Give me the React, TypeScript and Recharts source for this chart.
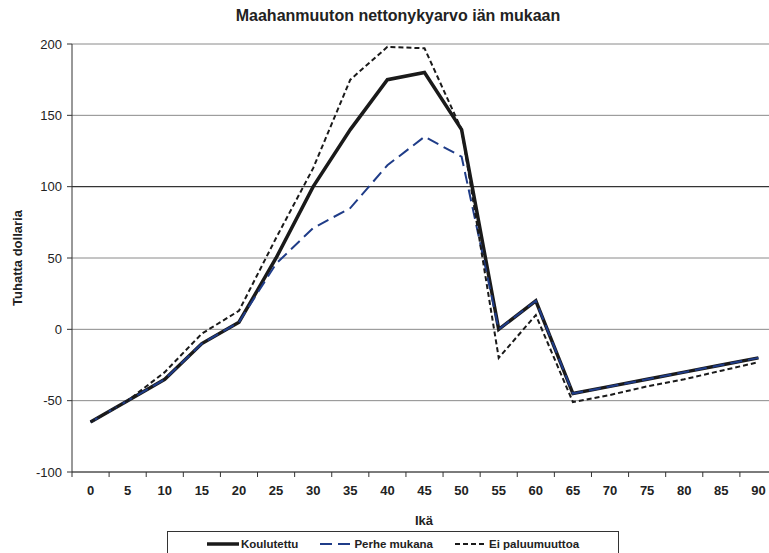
import { LineChart, Line, XAxis, YAxis, CartesianGrid, ReferenceLine } from 'recharts'

const ages = [0, 5, 10, 15, 20, 25, 30, 35, 40, 45, 50, 55, 60, 65, 70, 75, 80, 85, 90]
const koulutettu = [-65, -50, -35, -10, 5, 50, 100, 140, 175, 180, 140, 0, 20, -45, -40, -35, -30, -25, -20]
const perheMukana = [-65, -50, -35, -10, 5, 46, 71, 85, 115, 135, 121, 0, 20, -45, -40, -35, -30, -25, -20]
const eiPaluumuuttoa = [-65, -50, -30, -3, 13, 64, 113, 175, 198, 197, 140, -20, 10, -51, -46, -40, -35, -29, -23]
const yTicks = [-100, -50, 0, 50, 100, 150, 200]

const CHART_W = 790
const CHART_H = 500
const PLOT_LEFT = 72
const PLOT_RIGHT = 777
const PLOT_BOTTOM = 472
const BAND = (PLOT_RIGHT - PLOT_LEFT) / ages.length

const data = ages.map((age, i) => ({
  age: String(age),
  koulutettu: koulutettu[i],
  perhe: perheMukana[i],
  eiPaluu: eiPaluumuuttoa[i],
}))

function AgeTick({ x, payload, index }: any) {
  const left = x - BAND / 2
  const last = index === ages.length - 1
  return (
    <g>
      <line x1={left} x2={left} y1={PLOT_BOTTOM} y2={PLOT_BOTTOM + 5} stroke="#333" />
      {last && <line x1={x + BAND / 2} x2={x + BAND / 2} y1={PLOT_BOTTOM} y2={PLOT_BOTTOM + 5} stroke="#333" />}
      <text x={x} y={PLOT_BOTTOM + 23} textAnchor="middle" fontSize={13} fontWeight="bold" fill="#222">
        {payload.value}
      </text>
    </g>
  )
}

const legendItems = [
  { label: 'Koulutettu', stroke: '#1a1a1a', width: 3.5, dash: undefined },
  { label: 'Perhe mukana', stroke: '#1f3c88', width: 2, dash: '12 6' },
  { label: 'Ei paluumuuttoa', stroke: '#1a1a1a', width: 2, dash: '5 3' },
]

export default function App() {
  return (
    <div
      style={{
        position: 'absolute',
        left: 0,
        top: 0,
        width: 769,
        height: 553,
        overflow: 'hidden',
        background: '#fff',
        fontFamily: '"Liberation Sans", Arial, sans-serif',
        color: '#222',
      }}
    >
      <div style={{ position: 'absolute', left: 0, width: 796, top: 7, textAlign: 'center', fontSize: 16, fontWeight: 'bold' }}>
        Maahanmuuton nettonykyarvo iän mukaan
      </div>
      <div
        style={{
          position: 'absolute',
          left: 17,
          top: 258,
          transform: 'translate(-50%, -50%) rotate(-90deg)',
          whiteSpace: 'nowrap',
          fontSize: 13,
          fontWeight: 'bold',
        }}
      >
        Tuhatta dollaria
      </div>
      <div style={{ position: 'absolute', left: 0, width: 848, top: 513, textAlign: 'center', fontSize: 13, fontWeight: 'bold' }}>
        Ikä
      </div>
      <div
        style={{
          position: 'absolute',
          left: 167,
          top: 531,
          width: 452,
          height: 40,
          border: '1px solid #333',
          display: 'flex',
          alignItems: 'flex-start',
          justifyContent: 'center',
          paddingTop: 6,
          boxSizing: 'border-box',
          fontSize: 11.5,
          fontWeight: 'bold',
        }}
      >
        {legendItems.map((item) => (
          <div key={item.label} style={{ display: 'flex', alignItems: 'center', margin: '0 11px' }}>
            <svg width={32} height={8} style={{ marginRight: 2 }}>
              <line x1={0} x2={32} y1={4} y2={4} stroke={item.stroke} strokeWidth={item.width} strokeDasharray={item.dash} />
            </svg>
            <span>{item.label}</span>
          </div>
        ))}
      </div>
      <div style={{ position: 'absolute', left: 0, top: 0 }}>
        <LineChart width={CHART_W} height={CHART_H} data={data} margin={{ top: 44, right: CHART_W - PLOT_RIGHT, bottom: 0, left: 0 }}>
          <CartesianGrid vertical={false} stroke="#8a8a8a" />
          <ReferenceLine y={100} stroke="#222" />
          <XAxis
            dataKey="age"
            scale="point"
            padding={{ left: BAND / 2, right: BAND / 2 }}
            height={CHART_H - PLOT_BOTTOM}
            axisLine={{ stroke: '#333' }}
            tickLine={false}
            tick={<AgeTick />}
            interval={0}
          />
          <YAxis
            width={PLOT_LEFT}
            domain={[-100, 200]}
            ticks={yTicks}
            axisLine={{ stroke: '#333' }}
            tickLine={{ stroke: '#333' }}
            tickSize={5}
            tickMargin={5}
            tick={{ fill: '#222', fontSize: 13 }}
          />
          <Line dataKey="koulutettu" stroke="#1a1a1a" strokeWidth={3.5} dot={false} activeDot={false} isAnimationActive={false} />
          <Line dataKey="perhe" stroke="#1f3c88" strokeWidth={2} strokeDasharray="12 6" dot={false} activeDot={false} isAnimationActive={false} />
          <Line dataKey="eiPaluu" stroke="#1a1a1a" strokeWidth={2} strokeDasharray="5 3" dot={false} activeDot={false} isAnimationActive={false} />
        </LineChart>
      </div>
    </div>
  )
}
